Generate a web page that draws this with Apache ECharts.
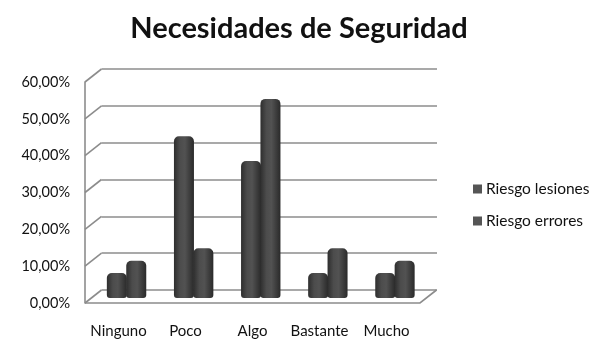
<!DOCTYPE html>
<html><head><meta charset="utf-8">
<style>html,body{margin:0;padding:0;background:#fff}#c{width:598px;height:340px;filter:blur(0.45px)}</style>
<script src="https://cdn.jsdelivr.net/npm/echarts@6/dist/echarts.min.js"></script>
</head><body><div id="c"></div>
<script>
const categories = ['Ninguno','Poco','Algo','Bastante','Mucho'];
const riesgoLesiones = [6.67,43.33,36.67,6.67,6.67];
const riesgoErrores = [10,13.33,53.33,13.33,10];
const ticks = [0,10,20,30,40,50,60];
const depth = [16.5,-13];
const wall = '#8c8c8c';
const chart = echarts.init(document.getElementById('c'),null,{renderer:'canvas'});
const FONT = 'Lato, "Open Sans", sans-serif';
const cyl = {type:'linear',x:0,y:0,x2:1,y2:0,colorStops:[
  {offset:0,color:'#2e2e2e'},{offset:.3,color:'#4c4c4c'},{offset:.55,color:'#525252'},{offset:1,color:'#2a2a2a'}]};
const barBase = {type:'bar',xAxisIndex:2,yAxisIndex:2,barWidth:20,barGap:'-3%',z:5,
  itemStyle:{color:cyl,borderRadius:[5,5,3,3]}};
chart.setOption({
  animation:false,
  backgroundColor:'#fff',
  title:{text:'Necesidades de Seguridad',left:'center',top:9,
    textStyle:{fontFamily:FONT,fontSize:29,fontWeight:'bold',color:'#111'}},
  legend:{orient:'vertical',left:468,top:176,itemWidth:9,itemHeight:9,itemGap:16,
    textStyle:{fontFamily:FONT,fontSize:15.5,color:'#111',padding:[0,0,0,-1]},
    data:[{name:'Riesgo lesiones',icon:'rect',itemStyle:{color:'#555'}},
          {name:'Riesgo errores',icon:'rect',itemStyle:{color:'#555'}}]},
  grid:[
    {left:85,right:178,top:82,bottom:37},
    {left:101.5,right:161,top:69,bottom:50},
    {left:93,right:169.5,top:74,bottom:42},
    {left:85,right:178,top:82,bottom:37}
  ],
  xAxis:[
    {gridIndex:0,type:'value',min:0,max:1,show:false},
    {gridIndex:1,type:'category',data:categories,show:false},
    {gridIndex:2,type:'category',data:categories,show:false},
    {gridIndex:3,type:'category',data:categories,
      axisLine:{show:false},axisTick:{show:false},
      axisLabel:{margin:21,fontFamily:FONT,fontSize:15,color:'#111',interval:0}}
  ],
  yAxis:[
    {gridIndex:0,type:'value',min:0,max:60,interval:10,
      axisLine:{show:true,lineStyle:{color:wall,width:1.6}},axisTick:{show:false},splitLine:{show:false},
      axisLabel:{margin:15,fontFamily:FONT,fontSize:14.5,color:'#111',
        formatter:v=>v.toFixed(2).replace('.',',')+'%'}},
    {gridIndex:1,type:'value',min:0,max:60,interval:10,
      axisLine:{show:false},axisTick:{show:false},axisLabel:{show:false},
      splitLine:{show:true,lineStyle:{color:wall,width:1.6}}},
    {gridIndex:2,type:'value',min:0,max:60,interval:10,show:false,splitLine:{show:false}},
    {gridIndex:3,type:'value',min:0,max:60,interval:10,show:false,splitLine:{show:false}}
  ],
  series:[
    {name:'wall',type:'custom',xAxisIndex:0,yAxisIndex:0,z:2,silent:true,
      data:ticks.map(t=>[0,t]),
      renderItem:(p,api)=>{
        const a=api.coord([0,api.value(1)]);
        return {type:'line',shape:{x1:a[0],y1:a[1],x2:a[0]+depth[0],y2:a[1]+depth[1]},
          style:{stroke:wall,lineWidth:1.6,fill:null}};
      }},
    {name:'floor',type:'custom',xAxisIndex:0,yAxisIndex:0,z:2,silent:true,
      data:[[0,0,1,0]],
      renderItem:(p,api)=>{
        const a=api.coord([api.value(0),api.value(1)]),b=api.coord([api.value(2),api.value(3)]);
        return {type:'polyline',shape:{points:[a,b,[b[0]+depth[0],b[1]+depth[1]]]},
          style:{stroke:wall,lineWidth:1.6,fill:null}};
      }},
    Object.assign({name:'Riesgo lesiones',data:riesgoLesiones},barBase),
    Object.assign({name:'Riesgo errores',data:riesgoErrores},barBase)
  ]
});
</script></body></html>
